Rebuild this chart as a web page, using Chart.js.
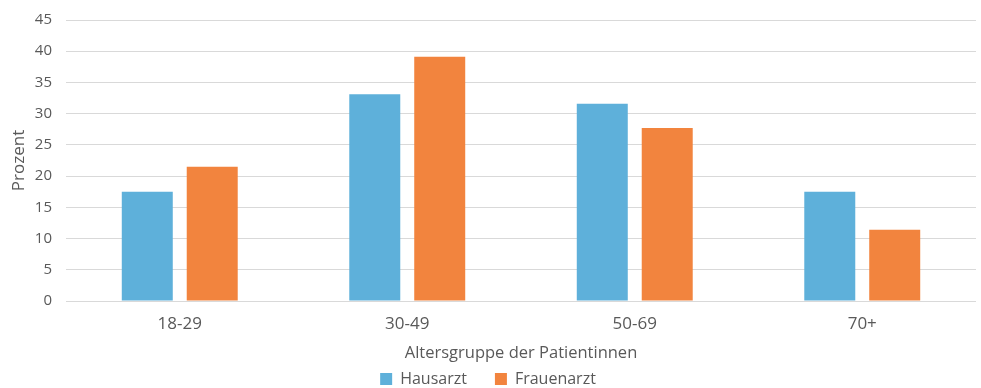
<!DOCTYPE html>
<html>
<head>
<meta charset="utf-8">
<script src="https://cdn.jsdelivr.net/npm/chart.js@4"></script>
<style>
  html, body { margin: 0; padding: 0; background: #fff; }
  #wrap { width: 981px; height: 388px; }
</style>
</head>
<body>
<div id="wrap"><canvas id="chart"></canvas></div>
<script>
// Data
const ageGroups = ['18-29', '30-49', '50-69', '70+'];
const hausarzt = [17.5, 33.1, 31.6, 17.5];
const frauenarzt = [21.5, 39.1, 27.7, 11.4];
const yTicks = [0, 5, 10, 15, 20, 25, 30, 35, 40, 45];

const textColor = '#595959';
const fontFamily = '"Open Sans", "Noto Sans", sans-serif';

new Chart(document.getElementById('chart'), {
  type: 'bar',
  data: {
    labels: ageGroups,
    datasets: [
      { label: 'Hausarzt', data: hausarzt, backgroundColor: '#5eb0da' },
      { label: 'Frauenarzt', data: frauenarzt, backgroundColor: '#f2843e' }
    ]
  },
  options: {
    responsive: true,
    maintainAspectRatio: false,
    animation: false,
    categoryPercentage: 0.571,
    barPercentage: 0.785,
    // legend box is allowed to run a little past the canvas bottom
    layout: { padding: { top: 20, right: 5, left: 0, bottom: -9 } },
    plugins: {
      legend: {
        position: 'bottom',
        labels: {
          color: textColor,
          font: { family: fontFamily, size: 16 },
          boxWidth: 12,
          boxHeight: 12,
          padding: 28
        }
      },
      tooltip: { enabled: false }
    },
    scales: {
      x: {
        grid: { display: false },
        border: { display: false },
        ticks: { color: textColor, font: { family: fontFamily, size: 17 }, padding: 5 },
        title: {
          display: true,
          text: 'Altersgruppe der Patientinnen',
          color: textColor,
          font: { family: fontFamily, size: 16.5 },
          padding: { top: 0, bottom: -20 }
        },
        afterFit: (scale) => { scale.height = 42; }
      },
      y: {
        min: 0,
        max: 45,
        afterBuildTicks: (scale) => { scale.ticks = yTicks.map(v => ({ value: v })); },
        grid: { color: '#d9d9d9', lineWidth: 1, drawTicks: false },
        border: { display: false },
        ticks: { color: textColor, font: { family: fontFamily, size: 15 }, padding: 14 },
        title: {
          display: true,
          text: 'Prozent',
          color: textColor,
          font: { family: fontFamily, size: 17 },
          padding: { top: 9, bottom: 0 }
        },
        afterFit: (scale) => {
          scale.width = 66;
          scale.paddingTop = 0;
          scale.paddingBottom = 0;
        }
      }
    }
  }
});
</script>
</body>
</html>
